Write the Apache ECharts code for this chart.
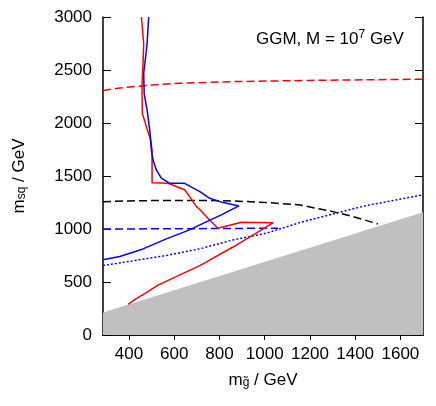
<!DOCTYPE html>
<html>
<head>
<meta charset="utf-8">
<script src="https://cdn.jsdelivr.net/npm/echarts@6/dist/echarts.min.js"></script>
<style>
  html, body { margin: 0; padding: 0; background: #fff; }
  #chart { width: 436px; height: 406px; }
</style>
</head>
<body>
<div id="chart"></div>
<script>
// tick labels
var xTicks = [400, 600, 800, 1000, 1200, 1400, 1600];
var yTicks = [0, 500, 1000, 1500, 2000, 2500, 3000];

// excluded (grey) region boundary
var greyEdge = [[285, 213], [1700, 1157]];

// curves, [m_gluino, m_sq]
var redSolid = [
  [455, 3000], [465, 2749], [462, 2561], [457, 2341], [459, 2090], [477, 1965],
  [496, 1839], [502, 1745], [502, 1437], [572, 1431], [646, 1370], [668, 1305],
  [698, 1211], [712, 1186], [749, 1102], [793, 1007], [897, 1063], [1037, 1058],
  [860, 830], [713, 655], [528, 470], [470, 390], [430, 340], [396, 290]
];
var blueSolid = [
  [487, 3000], [480, 2749], [465, 2467], [467, 2278], [480, 2121], [492, 1933],
  [499, 1745], [506, 1651], [521, 1557], [543, 1479], [580, 1431], [646, 1431],
  [713, 1352], [757, 1290], [816, 1249], [886, 1218], [808, 1133], [713, 1039],
  [668, 992], [565, 907], [462, 812], [359, 740], [285, 709]
];
var blackDashed = [
  [285, 1258], [400, 1265], [565, 1270], [700, 1270], [860, 1265], [1007, 1250],
  [1155, 1227], [1302, 1164], [1390, 1117], [1501, 1048]
];
var redDashed = [
  [285, 2305], [300, 2312], [359, 2331], [492, 2357], [624, 2375], [845, 2390],
  [1200, 2402], [1700, 2413]
];
var blueDashed = [[285, 1000], [700, 1003], [1060, 1008]];
var blueDotted = [
  [285, 655], [418, 700], [565, 750], [713, 813], [860, 897], [1007, 960],
  [1155, 1060], [1302, 1142], [1449, 1221], [1700, 1323]
];

var font = 'Liberation Sans, Arial, Helvetica, sans-serif';
var chart = echarts.init(document.getElementById('chart'));

function curve(data, color, type) {
  return {
    type: 'line',
    data: data,
    symbol: 'none',
    silent: true,
    lineStyle: { color: color, width: 1.5, type: type }
  };
}

var option = {
  animation: false,
  backgroundColor: '#fff',
  textStyle: { fontFamily: font },
  title: {
    text: '{a|GGM, M = 10}{b|7}{a| GeV}',
    left: 251,
    top: 24,
    textStyle: {
      fontWeight: 'normal',
      rich: {
        a: { fontSize: 17, color: '#000', fontFamily: font, fontWeight: 'normal' },
        b: { fontSize: 12, color: '#000', fontFamily: font, fontWeight: 'normal', padding: [0, 0, 8, 0] }
      }
    }
  },
  grid: { left: 103, right: 13, top: 17, bottom: 71 },
  xAxis: [
    {
      type: 'value', min: 285, max: 1700, position: 'bottom',
      axisLine: { lineStyle: { color: '#000', width: 1.5 } },
      axisTick: { customValues: xTicks, length: 5, lineStyle: { color: '#000', width: 1 } },
      axisLabel: { customValues: xTicks, fontSize: 17, color: '#000', margin: 11, fontFamily: font,
        formatter: function (v) { return String(v); } },
      splitLine: { show: false },
      name: '{m|m}{s|g\u0303}{m| / GeV}',
      nameLocation: 'middle',
      nameGap: 37,
      nameTextStyle: {
        rich: {
          m: { fontSize: 17, color: '#000', fontFamily: font, padding: [0, 0, 5, 0] },
          s: { fontSize: 12, color: '#000', fontFamily: font }
        }
      }
    },
    {
      type: 'value', min: 285, max: 1700, position: 'top',
      axisLine: { lineStyle: { color: '#000', width: 1.5 } },
      axisTick: { show: false }, axisLabel: { show: false }, splitLine: { show: false }
    }
  ],
  yAxis: [
    {
      type: 'value', min: 0, max: 3000, interval: 500, position: 'left',
      axisLine: { show: true, lineStyle: { color: '#000', width: 1.5 } },
      axisTick: { inside: true, length: 8, lineStyle: { color: '#000', width: 1 } },
      axisLabel: { fontSize: 17, color: '#000', margin: 11, fontFamily: font,
        formatter: function (v) { return yTicks.indexOf(v) >= 0 ? String(v) : ''; } },
      splitLine: { show: false },
      name: '{m|m}{s|sq}{m| / GeV}',
      nameLocation: 'middle',
      nameRotate: 90,
      nameGap: 70,
      nameTextStyle: {
        rich: {
          m: { fontSize: 17, color: '#000', fontFamily: font, padding: [0, 0, 5, 0] },
          s: { fontSize: 12, color: '#000', fontFamily: font }
        }
      }
    },
    {
      type: 'value', min: 0, max: 3000, interval: 500, position: 'right',
      axisLine: { show: true, lineStyle: { color: '#000', width: 1.5 } },
      axisTick: { inside: true, length: 8, lineStyle: { color: '#000', width: 1 } },
      axisLabel: { show: false }, splitLine: { show: false }
    }
  ],
  series: [
    {
      type: 'line',
      data: greyEdge,
      symbol: 'none',
      silent: true,
      lineStyle: { width: 0 },
      areaStyle: { color: '#c0c0c0', opacity: 1 }
    },
    curve(redDashed, '#ff0000', [8, 4]),
    curve(blackDashed, '#000000', [8, 4]),
    curve(blueDashed, '#0000ff', [8, 4]),
    curve(blueDotted, '#0000ff', [2, 2]),
    curve(redSolid, '#ff0000', 'solid'),
    curve(blueSolid, '#0000ff', 'solid')
  ]
};

chart.setOption(option);
</script>
</body>
</html>
